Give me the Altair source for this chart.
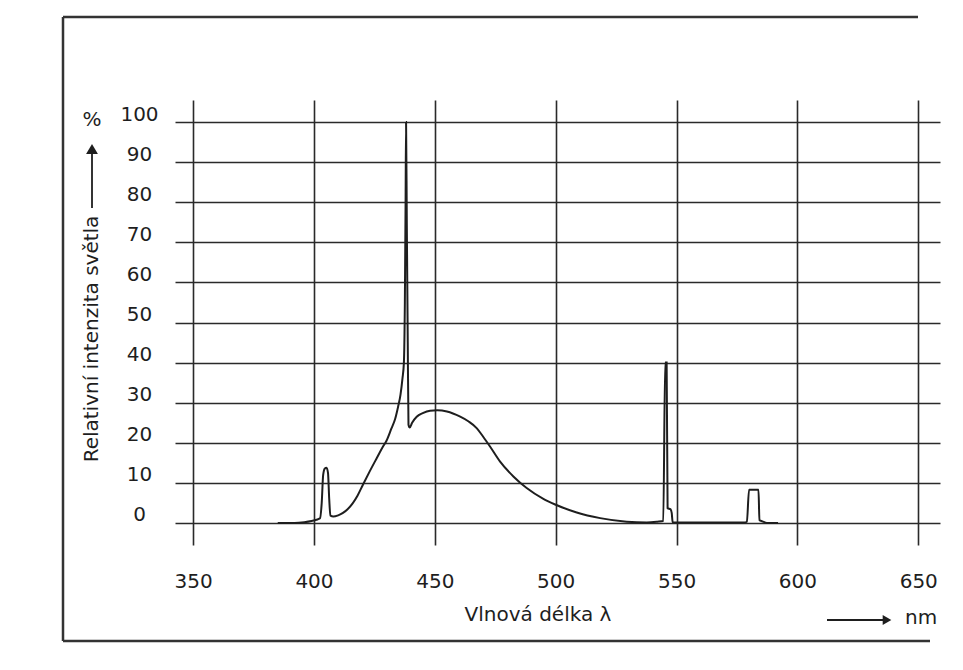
import altair as alt
import pandas as pd

# Spectrum (wavelength in nm, relative intensity in %)
wavelength = [385, 392, 396, 399, 401, 402.5, 403.2, 403.8, 404.5, 405.2, 405.8, 406.3, 406.8,
              408, 410, 412, 414, 416, 418, 420.3, 423, 426, 428.5, 430, 432, 433.6, 434.8,
              435.8, 436.6, 437.2, 437.6, 437.9, 438.1, 438.4, 438.8, 439.1, 439.6, 440.6,
              442.5, 445, 448, 451, 455, 460.5, 464, 467.4, 470, 472.9, 477, 482.5, 488,
              494.9, 499.8, 508.7, 518.4, 529.4, 537.7, 542, 544.5, 545.3, 545.9, 546.3,
              547.5, 548.0, 548.4, 550, 560, 570, 578, 579.1, 580.0, 583.9, 584.3, 585.5,
              587.4, 592]
intensity = [0, 0, 0.2, 0.5, 0.8, 1.2, 5, 12, 13.6, 13.8, 12.5, 6, 1.8,
             1.6, 1.9, 2.5, 3.5, 4.9, 6.8, 9.6, 12.8, 16.2, 19, 20.5, 23.5, 26, 29,
             32, 36, 40, 55, 80, 100, 75, 45, 24.5, 23.8, 25,
             26.5, 27.4, 28, 28.1, 27.8, 26.5, 25.3, 23.6, 21.5, 19, 15.3, 11.6, 8.7,
             6.0, 4.6, 2.6, 1.2, 0.3, 0.1, 0.3, 0.5, 40, 40, 3.7,
             3.4, 2.5, 0.2, 0.1, 0.1, 0.1, 0.1, 0.3, 8.3, 8.3, 0.7, 0.4,
             0, 0]

x_ticks = [350, 400, 450, 500, 550, 600, 650]
y_ticks = [0, 10, 20, 30, 40, 50, 60, 70, 80, 90, 100]

y_title = ["Relativní intenzita světla"]
y_unit = ["%"]
x_title = ["Vlnová délka λ"]
x_unit = ["nm"]

FONT = "DejaVu Sans"
INK = "#1e1e1e"
GRID = "#2a2a2a"

df = pd.DataFrame({"nm": wavelength, "pct": intensity})

x_scale = alt.Scale(domain=[342.5, 659], nice=False, zero=False)
y_scale = alt.Scale(domain=[-5.5, 105.5], nice=False, zero=False)

curve = alt.Chart(df).mark_line(color=INK, strokeWidth=2, interpolate="monotone").encode(
    x=alt.X("nm:Q", scale=x_scale,
            axis=alt.Axis(values=x_ticks, grid=True, gridColor=GRID, gridWidth=1.6, gridOpacity=1,
                          domain=False, ticks=False, tickSize=0, labelPadding=26,
                          labelBaseline="top", labelFont=FONT, labelFontSize=20,
                          labelColor=INK, title=None, labelFlush=False)),
    y=alt.Y("pct:Q", scale=y_scale,
            axis=alt.Axis(values=y_ticks, grid=True, gridColor=GRID, gridWidth=1.6, gridOpacity=1,
                          domain=False, ticks=False, tickSize=0, labelPadding=36,
                          labelAlign="center", labelOffset=-8, labelFont=FONT,
                          labelFontSize=20, labelColor=INK, title=None, labelFlush=False)),
)

one = pd.DataFrame({"k": [0]})

# frame lines around the figure (scan border)
frame_left = alt.Chart(one).mark_rule(color="#333333", strokeWidth=2.5).encode(
    x=alt.value(-112), y=alt.value(-83), y2=alt.value(541))
frame_top = alt.Chart(one).mark_rule(color="#333333", strokeWidth=2.5).encode(
    x=alt.value(-112), x2=alt.value(743), y=alt.value(-83))
frame_bottom = alt.Chart(one).mark_rule(color="#333333", strokeWidth=2.5).encode(
    x=alt.value(-112), x2=alt.value(755), y=alt.value(541))

ytitle = alt.Chart(pd.DataFrame({"t": y_title})).mark_text(
    font=FONT, fontSize=20, angle=270, color=INK, align="center", baseline="middle").encode(
    x=alt.value(-83), y=alt.value(239), text="t:N")
yunit = alt.Chart(pd.DataFrame({"t": y_unit})).mark_text(
    font=FONT, fontSize=20, color=INK, align="center", baseline="middle").encode(
    x=alt.value(-83), y=alt.value(20), text="t:N")
yarrow_line = alt.Chart(one).mark_rule(color=INK, strokeWidth=1.8).encode(
    x=alt.value(-83), y=alt.value(52), y2=alt.value(108))
yarrow_head = alt.Chart(one).mark_point(shape="triangle-up", filled=True, size=140,
                                        color=INK, opacity=1).encode(
    x=alt.value(-83), y=alt.value(49))

xtitle = alt.Chart(pd.DataFrame({"t": x_title})).mark_text(
    font=FONT, fontSize=20, color=INK, align="center", baseline="middle").encode(
    x=alt.value(363), y=alt.value(515), text="t:N")
xunit = alt.Chart(pd.DataFrame({"t": x_unit})).mark_text(
    font=FONT, fontSize=20, color=INK, align="left", baseline="middle").encode(
    x=alt.value(730), y=alt.value(518), text="t:N")
xarrow_line = alt.Chart(one).mark_rule(color=INK, strokeWidth=1.8).encode(
    x=alt.value(652), x2=alt.value(710), y=alt.value(520))
xarrow_head = alt.Chart(one).mark_point(shape="triangle-right", filled=True, size=100,
                                        color=INK, opacity=1).encode(
    x=alt.value(712), y=alt.value(520))

chart = alt.layer(
    curve, frame_left, frame_top, frame_bottom,
    ytitle, yunit, yarrow_line, yarrow_head,
    xtitle, xunit, xarrow_line, xarrow_head,
).properties(
    width=765, height=445,
    autosize=alt.AutoSizeParams(type="none"),
    padding={"left": 167, "top": 92, "right": 12, "bottom": 114},
    background="white",
).configure_view(stroke=None)

chart.save("out.html", embed_options={"renderer": "svg", "actions": False})
